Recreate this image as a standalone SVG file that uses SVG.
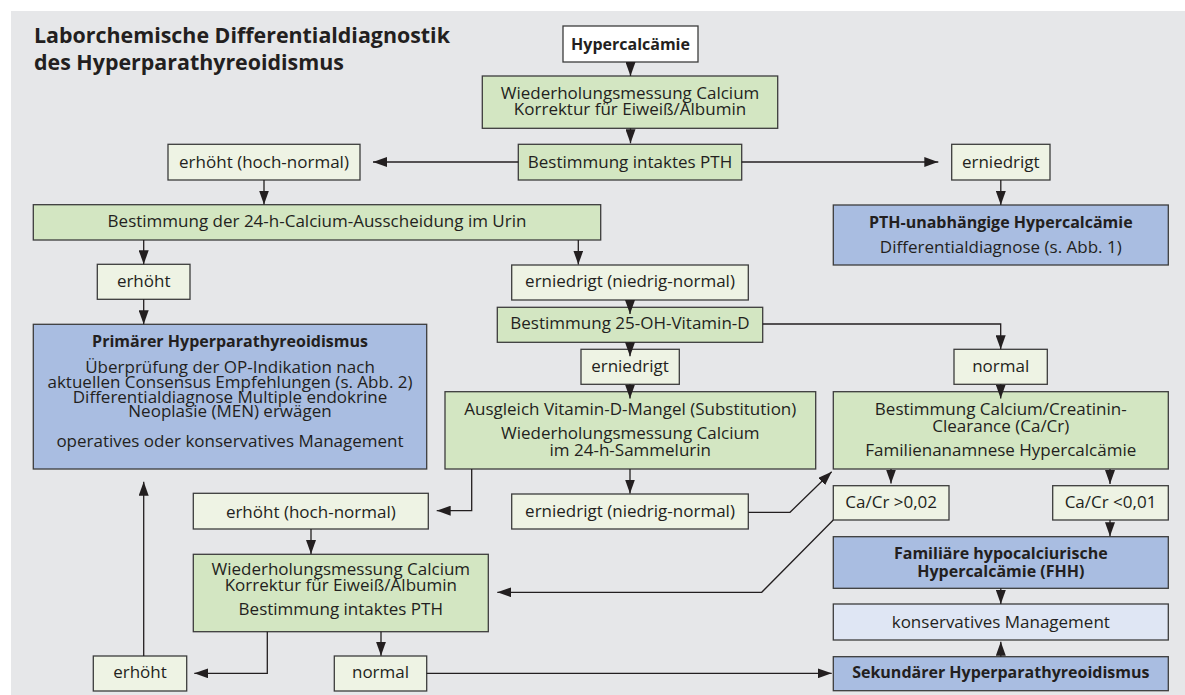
<svg xmlns="http://www.w3.org/2000/svg" width="1185" height="695" viewBox="0 0 1185 695">
<defs>
<style>
.bx{stroke:#3c3c3c;stroke-width:1.3}
.g{fill:#d3e6c2}
.lg{fill:#eef3e4}
.b{fill:#a9bde1}
.lb{fill:#dfe6f4}
.w{fill:#ffffff}
text{font-family:"Open Sans","Noto Sans","Liberation Sans",sans-serif;font-size:17px;fill:#231f20;text-anchor:middle}
.bd{font-weight:bold;font-size:16px}
.ttl{font-size:21.4px;font-weight:bold;text-anchor:start}
.c{fill:none;stroke:#231f20;stroke-width:1.3}
</style>
<marker id="ah" viewBox="0 0 14 10" refX="14" refY="5" markerWidth="14" markerHeight="10" markerUnits="userSpaceOnUse" orient="auto">
<path d="M0,0 L14,5 L0,10 z" fill="#231f20"/>
</marker>
</defs>
<rect x="0" y="0" width="1185" height="695" fill="#ffffff"/>
<rect x="11" y="11" width="1174" height="684" fill="#e6e7e9"/>
<text class="ttl" x="34" y="43">Laborchemische Differentialdiagnostik</text>
<text class="ttl" x="34" y="70">des Hyperparathyreoidismus</text>

<g id="n-hyper"><rect class="bx w" x="563" y="26" width="135" height="36"/><text class="bd" x="630.5" y="49.5">Hypercalcämie</text></g>
<g id="n-wied1"><rect class="bx g" x="482.3" y="76" width="295.4" height="52.3"/><text x="630" y="99">Wiederholungsmessung Calcium</text><text x="630" y="115">Korrektur für Eiweiß/Albumin</text></g>
<g id="n-pth"><rect class="bx g" x="518.3" y="144.3" width="223.4" height="35.7"/><text x="630" y="167.7">Bestimmung intaktes PTH</text></g>
<g id="n-erh1"><rect class="bx lg" x="168" y="144.3" width="192" height="35.7"/><text x="264" y="168.3">erhöht (hoch-normal)</text></g>
<g id="n-ern1"><rect class="bx lg" x="951.7" y="144.3" width="98.3" height="35.7"/><text x="1000.8" y="168.3">erniedrigt</text></g>
<g id="n-pthu"><rect class="bx b" x="833.3" y="205" width="335" height="60"/><text class="bd" x="1000.8" y="227.7">PTH-unabhängige Hypercalcämie</text><text x="1000.8" y="252.7">Differentialdiagnose (s. Abb. 1)</text></g>
<g id="n-24h"><rect class="bx g" x="33.3" y="204.7" width="567.4" height="35.3"/><text x="317" y="226.7">Bestimmung der 24-h-Calcium-Ausscheidung im Urin</text></g>
<g id="n-erh2"><rect class="bx lg" x="97.3" y="264.3" width="92.7" height="35"/><text x="143.7" y="287.3">erhöht</text></g>
<g id="n-phpt"><rect class="bx b" x="33.3" y="324.3" width="393.4" height="144.7"/><text class="bd" x="230" y="346.7">Primärer Hyperparathyreoidismus</text><text x="230" y="373.3">Überprüfung der OP-Indikation nach</text><text x="230" y="388.3">aktuellen Consensus Empfehlungen (s. Abb. 2)</text><text x="230" y="403.3">Differentialdiagnose Multiple endokrine</text><text x="230" y="417.3">Neoplasie (MEN) erwägen</text><text x="230" y="446.7">operatives oder konservatives Management</text></g>
<g id="n-ern2"><rect class="bx lg" x="511.7" y="265" width="236.6" height="35"/><text x="630" y="286.7">erniedrigt (niedrig-normal)</text></g>
<g id="n-vitd"><rect class="bx g" x="497.3" y="307.3" width="265.4" height="35"/><text x="630" y="329.3">Bestimmung 25-OH-Vitamin-D</text></g>
<g id="n-ern3"><rect class="bx lg" x="581" y="349.3" width="98.3" height="35"/><text x="630" y="371.7">erniedrigt</text></g>
<g id="n-norm1"><rect class="bx lg" x="954" y="349.3" width="93.3" height="35"/><text x="1000.7" y="371.7">normal</text></g>
<g id="n-ausg"><rect class="bx g" x="445" y="391.7" width="370.7" height="77.3"/><text x="630.3" y="415">Ausgleich Vitamin-D-Mangel (Substitution)</text><text x="630.3" y="439.3">Wiederholungsmessung Calcium</text><text x="630.3" y="455.7">im 24-h-Sammelurin</text></g>
<g id="n-cacr"><rect class="bx g" x="833.3" y="391.7" width="335" height="77.3"/><text x="1000.8" y="415">Bestimmung Calcium/Creatinin-</text><text x="1000.8" y="431.7">Clearance (Ca/Cr)</text><text x="1000.8" y="455.7">Familienanamnese Hypercalcämie</text></g>
<g id="n-erh3"><rect class="bx lg" x="193.3" y="493.3" width="235" height="35.7"/><text x="310.8" y="518.3">erhöht (hoch-normal)</text></g>
<g id="n-ern4"><rect class="bx lg" x="511.7" y="494" width="236.6" height="35"/><text x="630" y="516.7">erniedrigt (niedrig-normal)</text></g>
<g id="n-gt"><rect class="bx lg" x="833.3" y="485.7" width="115.7" height="34.3"/><text x="891.2" y="508.3">Ca/Cr &gt;0,02</text></g>
<g id="n-lt"><rect class="bx lg" x="1052.7" y="485.7" width="115.6" height="34.3"/><text x="1110.5" y="508.3">Ca/Cr &lt;0,01</text></g>
<g id="n-fhh"><rect class="bx b" x="833.3" y="536.7" width="335" height="51.6"/><text class="bd" x="1000.8" y="559">Familiäre hypocalciurische</text><text class="bd" x="1000.8" y="576.7">Hypercalcämie (FHH)</text></g>
<g id="n-wied2"><rect class="bx g" x="193.3" y="554.3" width="295" height="77.4"/><text x="340.8" y="575">Wiederholungsmessung Calcium</text><text x="340.8" y="590.7">Korrektur für Eiweiß/Albumin</text><text x="340.8" y="615">Bestimmung intaktes PTH</text></g>
<g id="n-kons"><rect class="bx lb" x="833.3" y="604" width="335" height="36"/><text x="1000.8" y="628.3">konservatives Management</text></g>
<g id="n-erh4"><rect class="bx lg" x="93.3" y="656" width="93.4" height="35"/><text x="140" y="678.3">erhöht</text></g>
<g id="n-norm2"><rect class="bx lg" x="334.3" y="656" width="92.4" height="35"/><text x="380.5" y="678.3">normal</text></g>
<g id="n-sek"><rect class="bx b" x="833.3" y="656.7" width="335" height="34"/><text class="bd" x="1000.8" y="678.3">Sekundärer Hyperparathyreoidismus</text></g>

<g id="connectors" class="c" marker-end="url(#ah)">
<path d="M630.5,62 V76"/>
<path d="M630.5,128.3 V143.3"/>
<path d="M518.3,162 H373"/>
<path d="M741.7,162 H938.3"/>
<path d="M1000.8,180 V205"/>
<path d="M264,180 V204.5"/>
<path d="M143.7,240 V264.3"/>
<path d="M143.7,299.3 V324.3"/>
<path d="M578.3,240 V264.5"/>
<path d="M630,300 V314"/>
<path d="M762.7,324 H1000.7 V349.3"/>
<path d="M630,342.3 V356.3"/>
<path d="M630,384.3 V398.5"/>
<path d="M1000.7,384.3 V398.5"/>
<path d="M891,469 V483.5"/>
<path d="M1110,469 V484"/>
<path d="M1110,520 V536.3"/>
<path d="M1000.8,588.3 V604"/>
<path d="M1000.8,656.7 V641.7"/>
<path d="M630,469 V493.5"/>
<path d="M471.7,469 V510.7 H436.7"/>
<path d="M311,529 V554"/>
<path d="M267.3,631.7 V673.3 H194.3"/>
<path d="M143.7,656 V481.7"/>
<path d="M381,631.7 V655.7"/>
<path d="M426.7,673.3 H831.7"/>
<path d="M748.3,512.3 H790 L831.7,471.7"/>
<path d="M833.3,520 L761.7,592.3 H497.3"/>
</g>
</svg>
